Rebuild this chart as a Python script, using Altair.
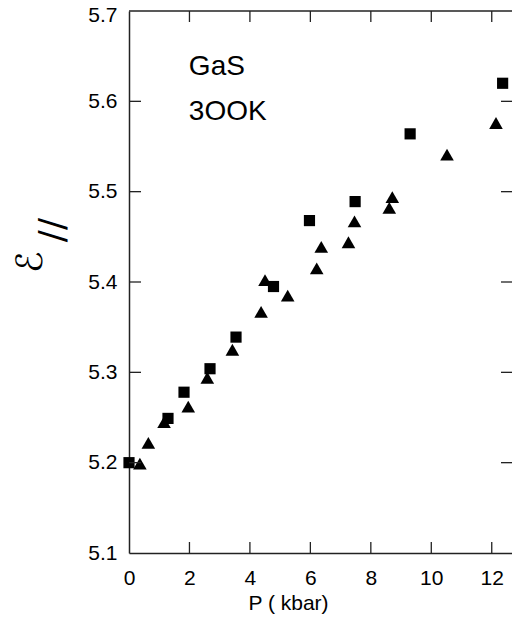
import altair as alt
import pandas as pd

# --- data ---
sq_x = [0.0, 1.29, 1.82, 2.68, 3.54, 4.78, 5.97, 7.48, 9.30, 12.36]
sq_y = [5.200, 5.249, 5.278, 5.304, 5.339, 5.395, 5.468, 5.489, 5.564, 5.620]

tr_x = [0.36, 0.64, 1.16, 1.96, 2.59, 3.42, 4.37, 4.50, 5.25, 6.21, 6.36,
        7.26, 7.46, 8.61, 8.71, 10.52, 12.14]
tr_y = [5.199, 5.222, 5.245, 5.262, 5.294, 5.325, 5.367, 5.402, 5.385, 5.415,
        5.439, 5.444, 5.467, 5.482, 5.494, 5.541, 5.576]

x_ticks = [2, 4, 6, 8, 10, 12]
y_ticks = [5.2, 5.3, 5.4, 5.5, 5.6]
x_labels = [0, 2, 4, 6, 8, 10, 12]
y_labels = [5.1, 5.2, 5.3, 5.4, 5.5, 5.6, 5.7]
x_domain = [0, 12.67]
y_domain = [5.1, 5.7]

ann_text = ["GaS", "3OOK"]
ann_x = [1.98, 1.98]
ann_y = [5.629, 5.579]

W, H = 383, 542
FONT = "Liberation Sans"
TICK = 11
LINE = "#222"

pts = pd.DataFrame({
    "P": sq_x + tr_x,
    "eps": sq_y + tr_y,
    "series": ["square"] * len(sq_x) + ["triangle"] * len(tr_x),
})

xs = alt.Scale(domain=x_domain, nice=False, zero=False)
ys = alt.Scale(domain=y_domain, nice=False, zero=False)

points = alt.Chart(pts).mark_point(filled=True, opacity=1, color="black", strokeWidth=0).encode(
    x=alt.X("P:Q", scale=xs, axis=alt.Axis(
        values=x_labels, format="d", title="P ( kbar)", grid=False,
        ticks=False, tickSize=0, domain=True, domainColor=LINE, domainWidth=1.5,
        labelFontSize=21, labelFont=FONT,
        labelColor="black", labelPadding=14, titleFont=FONT, titleFontSize=21,
        titleFontWeight="normal", titleColor="black", titleX=159, titleY=56,
        titleAlign="center", titleBaseline="alphabetic", labelFlush=False)),
    y=alt.Y("eps:Q", scale=ys, axis=alt.Axis(
        values=y_labels, format=".1f", title=None, grid=False,
        ticks=False, tickSize=0, domain=True, domainColor=LINE, domainWidth=1.5,
        labelFontSize=21, labelFont=FONT,
        labelOffset={"condition": {"test": "datum.value > 5.69", "value": 4}, "value": 0},
        labelColor="black", labelPadding=12, labelFlush=False)),
    shape=alt.Shape("series:N", scale=alt.Scale(domain=["square", "triangle"],
                                                range=["square", "triangle-up"]), legend=None),
    size=alt.Size("series:N", scale=alt.Scale(domain=["square", "triangle"],
                                              range=[125, 185]), legend=None),
)

xt = pd.DataFrame({"v": x_ticks})
yt = pd.DataFrame({"v": y_ticks})

tick_style = dict(color=LINE, strokeWidth=1.3)
bottom_ticks = alt.Chart(xt).mark_rule(**tick_style).encode(
    x=alt.X("v:Q", scale=xs), y=alt.value(H - TICK), y2=alt.value(H))
top_ticks = alt.Chart(xt).mark_rule(**tick_style).encode(
    x=alt.X("v:Q", scale=xs), y=alt.value(0), y2=alt.value(TICK))
left_ticks = alt.Chart(yt).mark_rule(**tick_style).encode(
    y=alt.Y("v:Q", scale=ys), x=alt.value(0), x2=alt.value(TICK + 1))
right_ticks = alt.Chart(yt).mark_rule(**tick_style).encode(
    y=alt.Y("v:Q", scale=ys), x=alt.value(W - TICK), x2=alt.value(W))
top_line = alt.Chart(pd.DataFrame({"v": [0]})).mark_rule(color=LINE, strokeWidth=1.5).encode(
    x=alt.value(0), x2=alt.value(W), y=alt.value(0))

ann = pd.DataFrame({"t": ann_text, "x": ann_x, "y": ann_y})
labels = alt.Chart(ann).mark_text(font=FONT, fontSize=28, align="left",
                                  baseline="alphabetic", color="black").encode(
    x=alt.X("x:Q", scale=xs), y=alt.Y("y:Q", scale=ys), text="t:N")

eps_title = alt.Chart(pd.DataFrame({"t": ["ℰ"]})).mark_text(
    font="DejaVu Sans", fontSize=36, angle=270, align="center", baseline="middle",
    color="black").encode(x=alt.value(-98), y=alt.value(251), text="t:N")
sub_title = alt.Chart(pd.DataFrame({"t": ["//"]})).mark_text(
    font="DejaVu Sans", fontSize=36, angle=270, align="center", baseline="middle",
    color="black").encode(x=alt.value(-76), y=alt.value(219), text="t:N")

chart = alt.layer(points, bottom_ticks, top_ticks, left_ticks, right_ticks, top_line,
                  labels, eps_title, sub_title).properties(
    width=W, height=H,
    autosize=alt.AutoSizeParams(type="none"),
    padding={"left": 121, "top": 3, "right": 0, "bottom": 61},
    background="white",
).configure_view(stroke=None)

chart.save("out.html", embed_options={"renderer": "svg", "actions": False})
